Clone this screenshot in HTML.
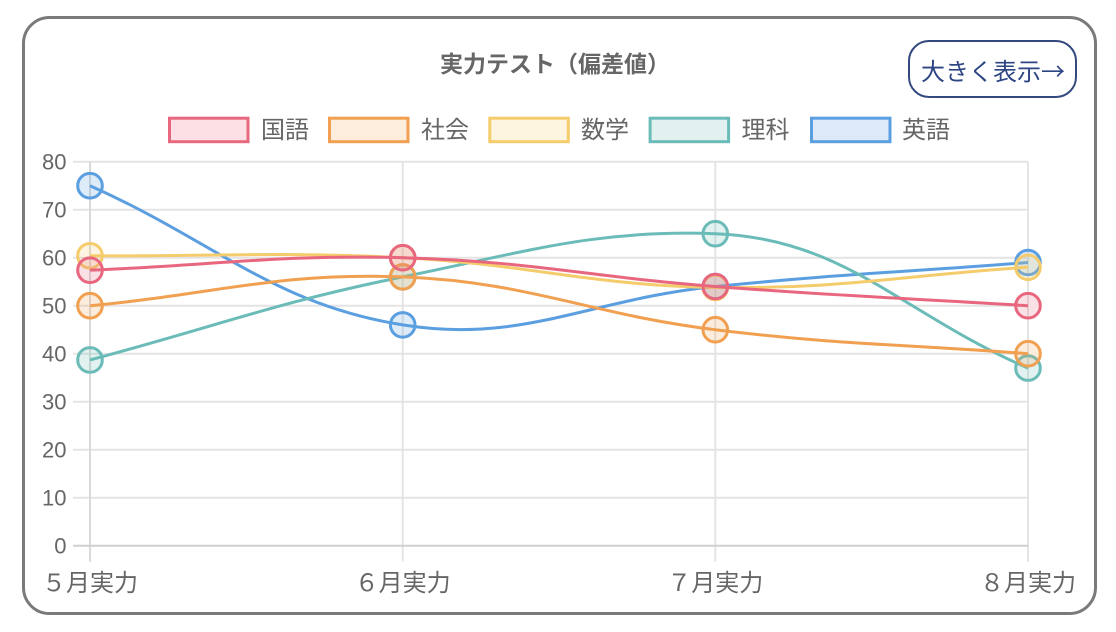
<!DOCTYPE html>
<html>
<head>
<meta charset="utf-8">
<style>
  html, body { margin:0; padding:0; background:#fff; }
  body { width:1116px; height:632px; overflow:hidden; }
  svg { display:block; }
  text { font-family: "Liberation Sans", "Noto Sans CJK JP", sans-serif; }
</style>
</head>
<body>
<svg id="c" width="1116" height="632" viewBox="0 0 1116 632" xmlns="http://www.w3.org/2000/svg">
  <!-- card -->
  <rect x="23.5" y="17.5" width="1072" height="596" rx="26" ry="26" fill="#fff" stroke="#7a7a7a" stroke-width="3"/>

  <!-- title -->
  <text x="440" y="72" font-size="23" font-weight="bold" fill="#666">実力テスト（偏差値）</text>

  <!-- button -->
  <rect x="909" y="41" width="167" height="56" rx="20" ry="20" fill="#fff" stroke="#34497f" stroke-width="2"/>
  <text x="993" y="80" font-size="24" fill="#2e4584" text-anchor="middle">大きく表示<tspan style="font-family:'Noto Sans CJK JP', sans-serif">→</tspan></text>

  <!-- legend -->
  <g stroke-width="3">
    <rect x="169.5" y="118.2" width="78.5" height="23.5" fill="#fce0e5" stroke="#e8697f"/>
    <rect x="329.5" y="118.2" width="78.5" height="23.5" fill="#fdeddc" stroke="#f0a050"/>
    <rect x="489.8" y="118.2" width="78.5" height="23.5" fill="#fdf5e0" stroke="#f5cc6b"/>
    <rect x="650.1" y="118.2" width="78.5" height="23.5" fill="#e1f1f0" stroke="#6bbcb8"/>
    <rect x="811.5" y="118.2" width="78.5" height="23.5" fill="#dde9f9" stroke="#5b9fe0"/>
  </g>
  <g font-size="24" fill="#666">
    <text x="261" y="138">国語</text>
    <text x="421" y="138">社会</text>
    <text x="581" y="138">数学</text>
    <text x="741.5" y="138">理科</text>
    <text x="902" y="138">英語</text>
  </g>

  <!-- grid -->
  <g id="grid" stroke="#e4e4e4" stroke-width="2" fill="none">
    <line x1="73" y1="161.7" x2="1028" y2="161.7"/>
    <line x1="73" y1="209.7" x2="1028" y2="209.7"/>
    <line x1="73" y1="257.7" x2="1028" y2="257.7"/>
    <line x1="73" y1="305.7" x2="1028" y2="305.7"/>
    <line x1="73" y1="353.7" x2="1028" y2="353.7"/>
    <line x1="73" y1="401.7" x2="1028" y2="401.7"/>
    <line x1="73" y1="449.7" x2="1028" y2="449.7"/>
    <line x1="73" y1="497.7" x2="1028" y2="497.7"/>
    <line x1="402.7" y1="161.7" x2="402.7" y2="561.7"/>
    <line x1="715.3" y1="161.7" x2="715.3" y2="561.7"/>
    <line x1="1028" y1="161.7" x2="1028" y2="561.7"/>
    <line x1="90" y1="161.7" x2="90" y2="561.7" stroke="#d9d9d9"/>
    <line x1="73" y1="545.7" x2="1028" y2="545.7" stroke="#cfcfcf"/>
  </g>

  <!-- y labels -->
  <g font-size="22" fill="#666" text-anchor="end">
    <text x="66.5" y="169.6">80</text>
    <text x="66.5" y="217.6">70</text>
    <text x="66.5" y="265.6">60</text>
    <text x="66.5" y="313.6">50</text>
    <text x="66.5" y="361.6">40</text>
    <text x="66.5" y="409.6">30</text>
    <text x="66.5" y="457.6">20</text>
    <text x="66.5" y="505.6">10</text>
    <text x="66.5" y="553.6">0</text>
  </g>

  <!-- x labels -->
  <g font-size="24" fill="#666" text-anchor="middle">
    <text x="90" y="591">５月実力</text>
    <text x="402.7" y="591">６月実力</text>
    <text x="715.3" y="591">７月実力</text>
    <text x="1028" y="591">８月実力</text>
  </g>

  <g id="series"></g>
</svg>
<script>
(function(){
  var xs=[90,402.7,715.3,1028];
  function Y(v){return 545.7 - v*4.8;}
  var ds=[
    {c:"#e8677f", d:[57.4,60,54,50]},
    {c:"#f0a050", d:[50,56,45,40]},
    {c:"#f5cc6b", d:[60.4,60,53.8,58]},
    {c:"#6bbcb8", d:[38.7,56,65,37], flat:{2:0.25}},
    {c:"#5b9fe0", d:[75,46,54,59]}
  ];
  var top=161.7,bottom=545.7,left=90,right=1028,t=0.4;
  function clamp(v,a,b){return Math.max(a,Math.min(b,v));}
  var g=document.getElementById('series');
  var NS="http://www.w3.org/2000/svg";
  for(var k=ds.length-1;k>=0;k--){
    var s=ds[k];
    var p=s.d.map(function(v,i){return {x:xs[i],y:Y(v)};});
    var n=p.length;
    for(var i=0;i<n;i++){
      var cur=p[i], prev=p[i-1]||cur, next=p[i+1]||cur;
      var d01=Math.hypot(cur.x-prev.x,cur.y-prev.y);
      var d12=Math.hypot(next.x-cur.x,next.y-cur.y);
      var s01=d01/(d01+d12), s12=d12/(d01+d12);
      if(isNaN(s01))s01=0; if(isNaN(s12))s12=0;
      var fa=t*s01, fb=t*s12;
      var dy=(next.y-prev.y);
      if(s.flat && s.flat[i]!==undefined) dy*=s.flat[i];
      cur.c1x=clamp(cur.x-fa*(next.x-prev.x),left,right);
      cur.c1y=clamp(cur.y-fa*dy,top,bottom);
      cur.c2x=clamp(cur.x+fb*(next.x-prev.x),left,right);
      cur.c2y=clamp(cur.y+fb*dy,top,bottom);
    }
    var path="M"+p[0].x+" "+p[0].y;
    for(var i=1;i<n;i++){
      path+=" C"+p[i-1].c2x+" "+p[i-1].c2y+" "+p[i].c1x+" "+p[i].c1y+" "+p[i].x+" "+p[i].y;
    }
    var pe=document.createElementNS(NS,"path");
    pe.setAttribute("d",path);
    pe.setAttribute("fill","none");
    pe.setAttribute("stroke",s.c);
    pe.setAttribute("stroke-width","3");
    g.appendChild(pe);
    for(var i=0;i<n;i++){
      var ce=document.createElementNS(NS,"circle");
      ce.setAttribute("cx",p[i].x);
      ce.setAttribute("cy",p[i].y);
      ce.setAttribute("r","12.3");
      ce.setAttribute("fill",s.c);
      ce.setAttribute("fill-opacity","0.2");
      ce.setAttribute("stroke",s.c);
      ce.setAttribute("stroke-width","3");
      g.appendChild(ce);
    }
  }
})();
</script>
</body>
</html>
